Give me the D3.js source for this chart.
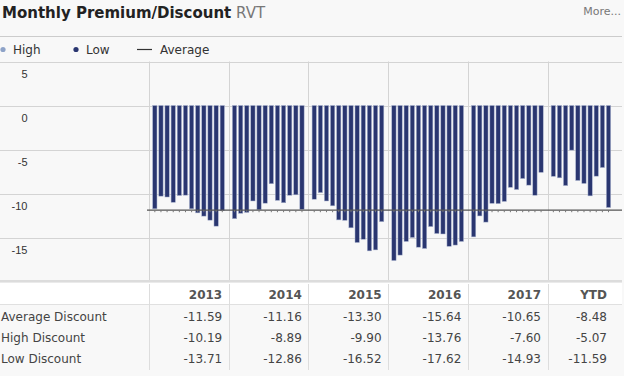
<!DOCTYPE html>
<html>
<head>
<meta charset="utf-8">
<script src="https://cdn.jsdelivr.net/npm/d3@7"></script>
<style>
  body { margin: 0; background: #f8f8f8; }
  svg { display: block; }
</style>
</head>
<body>
<script>
const years = ["2013", "2014", "2015", "2016", "2017", "YTD"];
const monthly = [
  [-11.74, -10.30, -10.40, -11.00, -10.23, -10.19, -11.74, -12.20, -12.57, -13.03, -13.71, -11.95],
  [-12.86, -12.25, -12.15, -10.85, -11.85, -11.10, -8.89, -10.78, -11.05, -10.20, -10.15, -11.80],
  [-10.65, -9.90, -10.85, -11.40, -13.00, -13.05, -13.90, -15.57, -15.20, -16.52, -16.41, -13.20],
  [-17.62, -17.00, -15.45, -15.00, -16.10, -16.25, -13.76, -14.55, -14.60, -16.00, -15.86, -15.45],
  [-14.93, -12.55, -13.25, -11.12, -11.15, -10.90, -9.30, -9.55, -8.30, -9.05, -10.20, -7.60],
  [-8.05, -8.22, -9.10, -5.07, -8.52, -8.86, -10.27, -8.03, -7.05, -11.59]
];
const avgDiscount = [-11.59, -11.16, -13.30, -15.64, -10.65, -8.48];
const highDiscount = [-10.19, -8.89, -9.90, -13.76, -7.60, -5.07];
const lowDiscount = [-13.71, -12.86, -16.52, -17.62, -14.93, -11.59];
const yTicks = [5, 0, -5, -10, -15];

const width = 624, height = 376;
const plotLeft = 149, plotRight = 622, plotTop = 61.5, plotBottom = 281.5;
const groupW = 79.7;

const svg = d3.select('body').append('svg')
    .attr('width', width)
    .attr('height', height)
    .style('font-family', 'DejaVu Sans, Verdana, sans-serif');

// title
const title = svg.append('text').attr('x', 2).attr('y', 18)
    .style('font-size', '15px');
title.append('tspan').text('Monthly Premium/Discount').style('font-weight', 'bold').attr('fill', '#222');
title.append('tspan').text(' RVT').attr('fill', '#777');

svg.append('text').attr('x', 621).attr('y', 15).attr('text-anchor', 'end')
    .style('font-size', '11px').attr('fill', '#777').text('More...');

svg.append('line').attr('x1', 0).attr('x2', plotRight).attr('y1', 36.5).attr('y2', 36.5)
    .attr('stroke', '#ccc');

// legend
const legend = svg.append('g').style('font-size', '12px').attr('fill', '#333');
legend.append('circle').attr('cx', 3).attr('cy', 49.5).attr('r', 2.6).attr('fill', '#8ea3c8');
legend.append('text').attr('x', 13).attr('y', 54).text('High');
legend.append('circle').attr('cx', 76).attr('cy', 49.5).attr('r', 2.6).attr('fill', '#2a3670');
legend.append('text').attr('x', 86).attr('y', 54).text('Low');
legend.append('line').attr('x1', 137).attr('x2', 152).attr('y1', 49.5).attr('y2', 49.5)
    .attr('stroke', '#333').attr('stroke-width', 1.2);
legend.append('text').attr('x', 160).attr('y', 54).text('Average');

// scales
const y = d3.scaleLinear().domain([-20, 5]).range([plotBottom, plotTop]);
const xYear = d3.scaleLinear().domain([0, years.length]).range([plotLeft, plotLeft + groupW * years.length]);
const xBar = (yi, m) => xYear(yi) + (m + 1) * groupW / 13 - 0.3;

// grid
svg.append('g').selectAll('line').data(yTicks).join('line')
    .attr('x1', 0).attr('x2', plotRight)
    .attr('y1', d => Math.round(y(d)) + 0.5).attr('y2', d => Math.round(y(d)) + 0.5)
    .attr('stroke', '#d4d4d4');

svg.append('g').selectAll('line').data(d3.range(years.length)).join('line')
    .attr('x1', d => Math.round(xYear(d)) + 0.5).attr('x2', d => Math.round(xYear(d)) + 0.5)
    .attr('y1', plotTop).attr('y2', plotBottom)
    .attr('stroke', '#d4d4d4');

svg.append('g').selectAll('text').data(yTicks).join('text')
    .attr('x', 27.5).attr('y', d => y(d) + 16)
    .attr('text-anchor', 'end')
    .style('font-family', 'Liberation Sans, Arial, sans-serif')
    .style('font-size', '11px').attr('fill', '#333')
    .text(d => d);

// bars
const bars = [];
monthly.forEach((vals, yi) => vals.forEach((v, m) => bars.push({ yi, m, v })));

svg.append('g').selectAll('rect').data(bars).join('rect')
    .attr('x', d => xBar(d.yi, d.m) - 2.15)
    .attr('width', 4.3)
    .attr('y', y(0))
    .attr('height', d => y(d.v) - y(0))
    .attr('fill', '#2a3670')
    .attr('stroke', '#aab4d0')
    .attr('stroke-width', 0.5);

// overall average line
const overall = d3.mean(bars, d => d.v);
const avgY = y(overall);
svg.append('line').attr('x1', plotLeft - 2).attr('x2', plotRight).attr('y1', avgY).attr('y2', avgY)
    .attr('stroke', '#555').attr('stroke-width', 1.3);
svg.append('g').selectAll('line').data(bars).join('line')
    .attr('x1', d => xBar(d.yi, d.m)).attr('x2', d => xBar(d.yi, d.m))
    .attr('y1', avgY).attr('y2', avgY + 2)
    .attr('stroke', '#777').attr('stroke-width', 1);

// table
svg.append('rect').attr('x', 0).attr('y', 283).attr('width', plotRight).attr('height', 21)
    .attr('fill', '#fff');
svg.append('rect').attr('x', 0).attr('y', 280).attr('width', plotRight).attr('height', 2.5)
    .attr('fill', '#dcdcdc');
svg.append('line').attr('x1', 0).attr('x2', plotRight).attr('y1', 304.5).attr('y2', 304.5)
    .attr('stroke', '#e0e0e0');
svg.append('g').selectAll('line').data(d3.range(years.length)).join('line')
    .attr('x1', d => Math.round(xYear(d)) + 0.5).attr('x2', d => Math.round(xYear(d)) + 0.5)
    .attr('y1', 284).attr('y2', 370)
    .attr('stroke', '#ddd');

const colRight = (i) => i === years.length - 1 ? 607 : xYear(i + 1) - 6.5;

svg.append('g').selectAll('text').data(years).join('text')
    .attr('x', (d, i) => colRight(i)).attr('y', 299)
    .attr('text-anchor', 'end')
    .style('font-size', '12px').style('font-weight', 'bold').attr('fill', '#555')
    .text(d => d);

const rows = [
  { label: 'Average Discount', vals: avgDiscount },
  { label: 'High Discount', vals: highDiscount },
  { label: 'Low Discount', vals: lowDiscount }
];

rows.forEach((r, ri) => {
  const ry = 321 + ri * 21;
  svg.append('text').attr('x', 1).attr('y', ry)
      .style('font-size', '12px').attr('fill', '#444').text(r.label);
  svg.append('g').selectAll('text').data(r.vals).join('text')
      .attr('x', (d, i) => colRight(i)).attr('y', ry)
      .attr('text-anchor', 'end')
      .style('font-size', '12px').attr('fill', '#444')
      .text(d => d.toFixed(2));
});
</script>
</body>
</html>
